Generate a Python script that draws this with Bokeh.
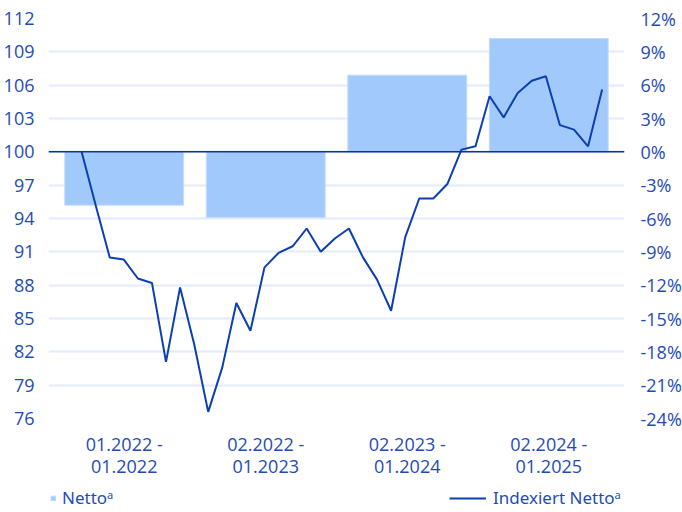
from bokeh.plotting import figure
from bokeh.layouts import column
from bokeh.models import (Range1d, LinearAxis, Legend, LegendItem,
                          Span, ColumnDataSource, FixedTicker, PrintfTickFormatter)
from bokeh.embed import file_html
from bokeh.resources import INLINE

# ---------------- data ----------------
periods = ["01.2022 -\n01.2022", "02.2022 -\n01.2023",
           "02.2023 -\n01.2024", "02.2024 -\n01.2025"]
netto_pct = [-4.8, -5.9, 6.9, 10.2]

# monthly index values, month 0 = base (12.2021), then 01.2022 .. 01.2025
months = list(range(38))
indexed = [100.0, 95.2, 90.5, 90.3, 88.6, 88.2, 81.1, 87.8, 82.7, 76.6,
           80.6, 86.4, 83.9, 89.6, 90.9, 91.5, 93.1, 91.0, 92.2, 93.1,
           90.5, 88.5, 85.7, 92.3, 95.8, 95.8, 97.1, 100.2, 100.5, 105.0,
           103.1, 105.3, 106.4, 106.8, 102.4, 102.0, 100.5, 105.6]
base_index = 100

left_ticks = [76, 79, 82, 85, 88, 91, 94, 97, 100, 103, 106, 109, 112]
right_ticks = [-24, -21, -18, -15, -12, -9, -6, -3, 0, 3, 6, 9, 12]

legend_labels = ["Netto\u1d43", "Indexiert Netto\u1d43"]

# ---------------- style ----------------
FONT = "Open Sans"
LEG_FONT = "Noto Sans"
TEXT = "#1f4bb5"
LINE = "#0b3fb3"
ZERO = "#0a3595"
BAR = "#a2c9fb"
BAR_EDGE = "#c3dbfc"
GRID = "#e2ecfb"

period_pos = list(range(len(periods)))   # category slots

p = figure(x_range=Range1d(-0.535, len(periods) - 0.465),
           y_range=Range1d(left_ticks[0], left_ticks[-1]),
           frame_width=576, frame_height=400,
           output_backend="svg", toolbar_location=None,
           min_border_left=47, min_border_right=56, min_border_top=18,
           min_border_bottom=68)
p.outline_line_color = None
p.background_fill_color = "white"
p.border_fill_color = "white"

p.extra_x_ranges = {"months": Range1d(-2.353, 38.59)}
p.extra_y_ranges = {"pct": Range1d(right_ticks[0], right_ticks[-1])}

# grid
p.xgrid.grid_line_color = None
p.ygrid.ticker = FixedTicker(ticks=left_ticks)
p.ygrid.grid_line_color = GRID
p.ygrid.grid_line_width = 2

# bars
src_bar = ColumnDataSource(dict(pos=period_pos, netto=netto_pct))
bars = p.vbar(x="pos", top="netto", bottom=0, width=0.84, source=src_bar,
              fill_color=BAR, line_color=BAR_EDGE, line_width=1,
              y_range_name="pct")

# zero line
p.add_layout(Span(location=base_index, dimension="width", line_color=ZERO,
                  line_width=1.5))

# line
src_line = ColumnDataSource(dict(month=months, indexed=indexed))
ln = p.line(x="month", y="indexed", source=src_line, line_color=LINE,
            line_width=2, x_range_name="months")

# axes
p.yaxis.ticker = FixedTicker(ticks=left_ticks)
right = LinearAxis(y_range_name="pct", ticker=FixedTicker(ticks=right_ticks),
                   formatter=PrintfTickFormatter(format="%d%%"))
p.add_layout(right, "right")

for ax in p.yaxis + [right]:
    ax.axis_line_color = None
    ax.major_tick_line_color = None
    ax.minor_tick_line_color = None
    ax.major_label_text_font = FONT
    ax.major_label_text_font_size = "18px"
    ax.major_label_text_color = TEXT
p.yaxis[0].major_label_standoff = 8
right.major_label_standoff = 10
right.major_label_text_align = "right"

xa = p.xaxis[0]
xa.ticker = FixedTicker(ticks=period_pos)
xa.major_label_overrides = {pos: lab for pos, lab in zip(period_pos, periods)}
xa.axis_line_color = None
xa.major_tick_line_color = None
xa.minor_tick_line_color = None
xa.major_label_text_font = FONT
xa.major_label_text_font_size = "18px"
xa.major_label_text_color = TEXT
xa.major_label_text_line_height = 0.92
xa.major_label_standoff = 7

# ---------------- legend strip ----------------
lf = figure(x_range=Range1d(0, 1), y_range=Range1d(0, 1),
            frame_width=576, frame_height=26,
            output_backend="svg", toolbar_location=None,
            min_border_left=47, min_border_right=59, min_border_top=0,
            min_border_bottom=0)
lf.axis.visible = False
lf.grid.visible = False
lf.outline_line_color = None
lf.border_fill_color = "white"

# legend proxies: one undefined (NaN) value each, so nothing is drawn in the strip
nan = float("nan")
proxy_src = ColumnDataSource(dict(x=[nan], y=[nan]))
proxy_bar = lf.vbar(x="x", top="y", width=1, source=proxy_src,
                    fill_color=BAR, line_color=BAR_EDGE, line_width=1)
proxy_line = lf.line(x="x", y="y", source=proxy_src, line_color=LINE, line_width=2)


def make_legend(items, gw, gh, x, y, standoff):
    return Legend(items=items, location=(x, y), glyph_width=gw, glyph_height=gh,
                  label_standoff=standoff, padding=0, margin=0, spacing=0,
                  background_fill_alpha=0, border_line_alpha=0,
                  label_text_font=LEG_FONT, label_text_font_size="17px",
                  label_text_color=TEXT)


lg1 = make_legend([LegendItem(label=legend_labels[0], renderers=[proxy_bar])], 6, 6, 2, 3, 6)
lg2 = make_legend([LegendItem(label=legend_labels[1], renderers=[proxy_line])], 37, 6, 401, 3, 7)
lf.add_layout(lg1, "center")
lf.add_layout(lg2, "center")

layout = column(p, lf, spacing=0)
open("out.html", "w").write(file_html(layout, INLINE))
